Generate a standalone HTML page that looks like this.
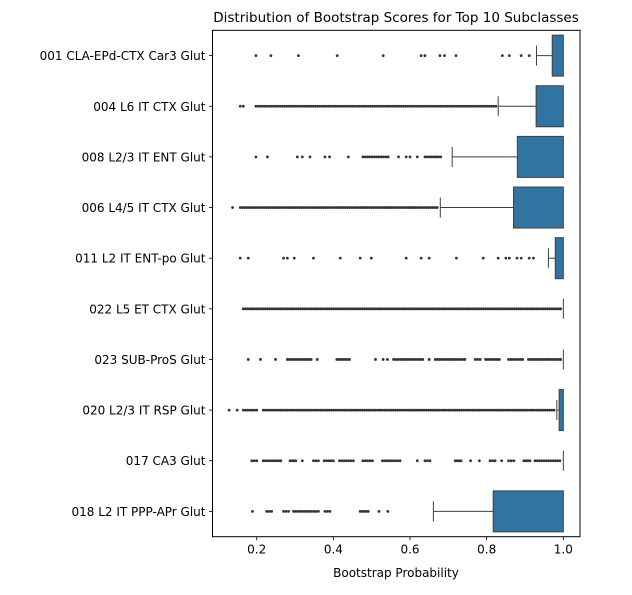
<!DOCTYPE html>
<html><head><meta charset="utf-8"><style>
body{margin:0;background:#fff;}
svg text{font-family:"DejaVu Sans","Liberation Sans",sans-serif;fill:#000;}
</style></head><body>
<svg id="chart" width="632" height="590" viewBox="0 0 632 590" xmlns="http://www.w3.org/2000/svg"></svg>
<script>
const categories=["001 CLA-EPd-CTX Car3 Glut","004 L6 IT CTX Glut","008 L2/3 IT ENT Glut","006 L4/5 IT CTX Glut","011 L2 IT ENT-po Glut","022 L5 ET CTX Glut","023 SUB-ProS Glut","020 L2/3 IT RSP Glut","017 CA3 Glut","018 L2 IT PPP-APr Glut"];
const q1=[0.971,0.929,0.88,0.87,0.979,1.0,1.0,0.989,1.0,0.817];
const q3=[1,1,1,1,1,1,1,1,1,1];
const whiskerLow=[0.93,0.83,0.71,0.679,0.961,1.0,1.0,0.983,1.0,0.661];
const outliers=[
[0.198,0.237,0.309,0.41,0.53,0.629,0.639,0.678,0.69,0.72,0.841,0.859,0.89,0.911],
[0.157,0.165],
[0.198,0.228,0.306,0.319,0.339,0.378,0.39,0.439,0.57,0.59,0.6,0.619],
[0.137],
[0.157,0.178,0.27,0.28,0.298,0.348,0.418,0.47,0.499,0.59,0.629,0.65,0.721,0.791,0.83,0.85,0.859,0.879,0.89,0.911,0.922],
[],
[0.178,0.21,0.249,0.358,0.51,0.53,0.541,0.65],
[0.128,0.149],
[0.319,0.619,0.758,0.781,0.839],
[0.189,0.519,0.542]];
const denseRanges=[
[],
[[0.198,0.824]],
[[0.477,0.543],[0.639,0.68]],
[[0.157,0.671]],
[],
[[0.165,0.993]],
[[0.28,0.342],[0.409,0.442],[0.557,0.633],[0.666,0.743],[0.77,0.783],[0.797,0.833],[0.857,0.894],[0.909,0.993]],
[[0.165,0.2],[0.217,0.976]],
[[0.187,0.2],[0.217,0.263],[0.287,0.302],[0.348,0.361],[0.376,0.4],[0.416,0.452],[0.477,0.502],[0.528,0.574],[0.639,0.652],[0.718,0.733],[0.809,0.822],[0.857,0.871],[0.897,0.913],[0.926,0.991]],
[[0.226,0.239],[0.27,0.283],[0.296,0.361],[0.378,0.391],[0.47,0.491]]];
const xTicks=[0.2,0.4,0.6,0.8,1.0];
const xTickLabels=["0.2","0.4","0.6","0.8","1.0"];

const L=212.5,R=580,T=30.3,B=536.7;
const X=v=>256.7+(v-0.2)*383.3;
const band=(B-T)/categories.length;
const Y=i=>T+(i+0.5)*band;
const svg=document.getElementById('chart');
const NS='http://www.w3.org/2000/svg';
function mk(tag,attrs,parent){const e=document.createElementNS(NS,tag);for(const k in attrs)e.setAttribute(k,attrs[k]);(parent||svg).appendChild(e);return e;}

const title=mk('text',{x:396,y:22,'text-anchor':'middle','font-size':13.5});
title.textContent='Distribution of Bootstrap Scores for Top 10 Subclasses';



categories.forEach((c,i)=>{
  const y=Y(i);
  const g=mk('g',{});
  
  
  const dot=v=>{const d=mk('circle',{cx:X(v),cy:y,r:1.4,fill:'#333'},g);
    
    };
  outliers[i].forEach(dot);
  denseRanges[i].forEach(r=>{
    const x0=X(r[0]),x1=X(r[1]);
    const n=Math.max(1,Math.round((x1-x0)/2.2));
    for(let k=0;k<=n;k++)dot(r[0]+(r[1]-r[0])*k/n);
  });
  const w=mk('line',{x1:X(whiskerLow[i]),x2:X(q1[i]),y1:y,y2:y,stroke:'#3f3f3f','stroke-width':1},g);
  
  
  const cap=mk('line',{x1:X(whiskerLow[i]),x2:X(whiskerLow[i]),y1:y-10,y2:y+10,stroke:'#3f3f3f','stroke-width':1},g);
  
  
  const bw=Math.max(X(q3[i])-X(q1[i]),0);
  const box=mk('rect',{x:X(q1[i]),y:y-20.5,width:bw,height:41,fill:'#3274a1',stroke:'#3f3f3f','stroke-width':1},g);
  
  
  const tk=mk('line',{x1:L-3.5,x2:L,y1:y,y2:y,stroke:'#000','stroke-width':0.8});
  
  
  const lb=mk('text',{x:L-7,y:y+4.5,'text-anchor':'end','font-size':12});
  lb.textContent=c;
  
  
});

const frame=mk('rect',{x:L,y:T,width:R-L,height:B-T,fill:'none',stroke:'#000','stroke-width':1});



xTicks.forEach((t,i)=>{
  const tk=mk('line',{x1:X(t),x2:X(t),y1:B,y2:B+3.5,stroke:'#000','stroke-width':0.8});
  
  
  const lb=mk('text',{x:X(t),y:B+17,'text-anchor':'middle','font-size':12});
  lb.textContent=xTickLabels[i];
  
  
});
const xl=mk('text',{x:396,y:577,'text-anchor':'middle','font-size':12});
xl.textContent='Bootstrap Probability';


</script>
</body></html>
